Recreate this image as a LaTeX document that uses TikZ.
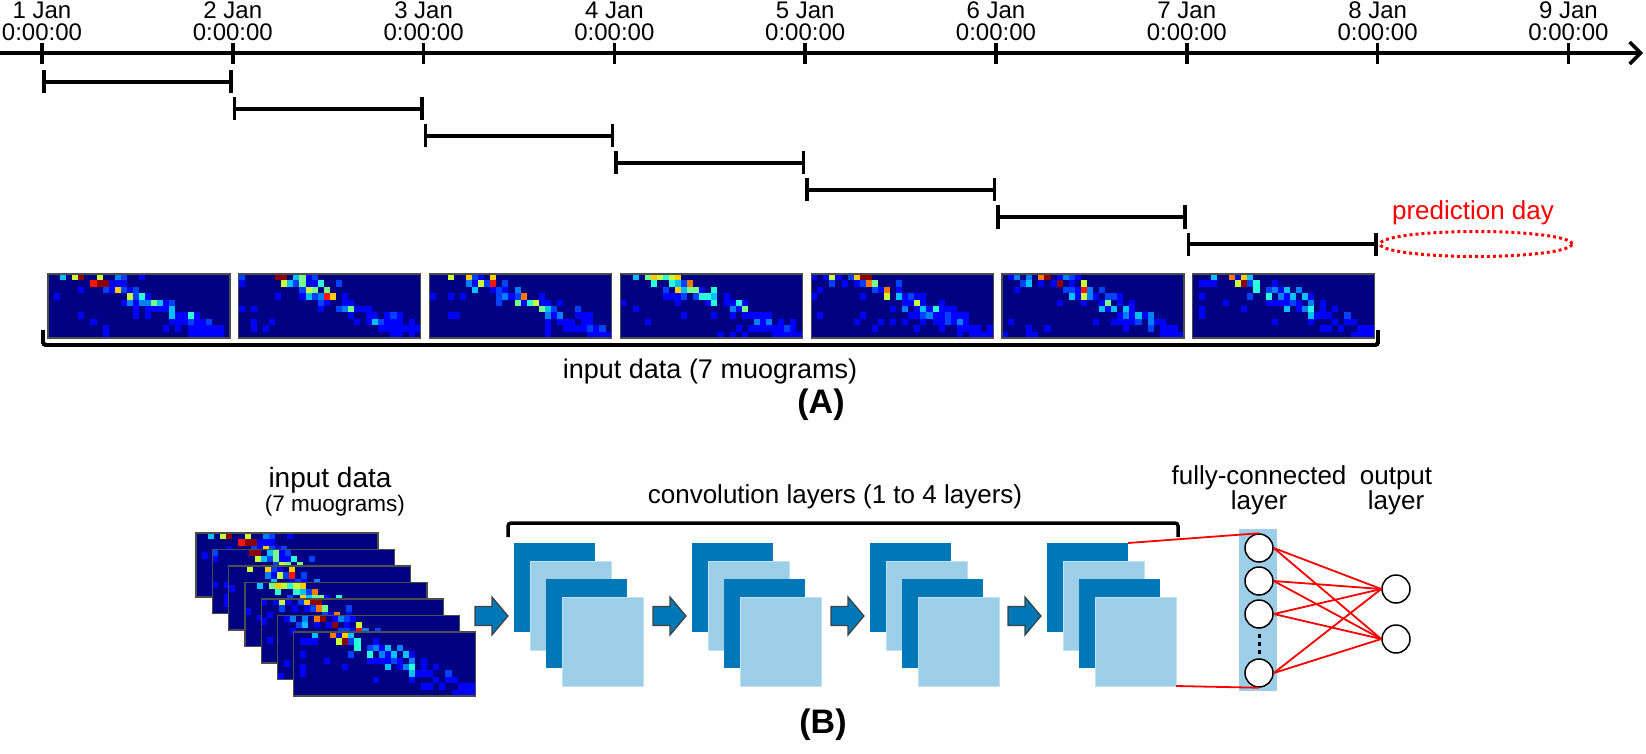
\documentclass[tikz,border=0pt]{standalone}
\usepackage{fontspec}
\setmainfont{Liberation Sans}
\usetikzlibrary{arrows.meta}

\definecolor{convdark}{RGB}{0,119,182}
\definecolor{convlight}{RGB}{156,206,232}
\definecolor{convedge}{RGB}{190,225,243}
\definecolor{jetbg}{RGB}{0,0,130}
\definecolor{jet0}{RGB}{0,0,215}
\definecolor{jet1}{RGB}{0,0,255}
\definecolor{jet2}{RGB}{0,64,255}
\definecolor{jet3}{RGB}{0,128,255}
\definecolor{jet4}{RGB}{0,192,255}
\definecolor{jet5}{RGB}{40,255,215}
\definecolor{jet6}{RGB}{120,255,135}
\definecolor{jet7}{RGB}{200,255,55}
\definecolor{jet8}{RGB}{255,205,0}
\definecolor{jet9}{RGB}{255,120,0}
\definecolor{jet10}{RGB}{255,20,0}
\definecolor{jet11}{RGB}{140,0,0}

% one muogram: x, y (top left), seed
\newcommand\muogram[3]{%
	\fill[jetbg] (#1,#2) rectangle ++(182,64);
	\pgfmathsetseed{#3}
	\foreach \col in {0,...,29}{
		\foreach \row in {0,...,9}{
			\pgfmathsetmacro\dd{\row-(\col-7)*0.42}
			\pgfmathtruncatemacro\hit{rnd<(0.07*(\dd>0)+0.85*exp(-min(\dd*\dd/3,9)))}
			\ifnum\hit=1
				\pgfmathtruncatemacro\lv{min(11,1+(rnd+0.001)^(1+0.4*\row)*(14-1.5*\row)*exp(-min(\dd*\dd/4,9)))}
				\fill[jet\lv] (#1+\col*6.067,#2+\row*6.4) rectangle ++(6.07,6.4);
			\fi
		}
	}
	\draw[mframe] (#1,#2) rectangle ++(182,64);
}

\begin{document}
\begin{tikzpicture}[x=1pt,y=-1pt,
		axisline/.style={line width=3.5pt},
		span/.style={line width=3.5pt,{Bar[width=23pt]}-{Bar[width=23pt]}},
		daylab/.style={align=center,inner sep=0pt,anchor=south,font=\fontsize{24}{22}\selectfont},
		biglab/.style={inner sep=0pt,anchor=base,font=\fontsize{26}{25}\selectfont},
		smalllab/.style={inner sep=0pt,anchor=base,font=\fontsize{22.5}{22}\selectfont},
		panellab/.style={inner sep=0pt,font=\fontsize{34}{34}\selectfont\bfseries},
		mframe/.style={draw=black!70,line width=1.2pt},
		bracket/.style={line width=3.5pt,rounded corners=3pt},
		convdark/.style={fill=convdark,inner sep=0pt,outer sep=0pt,minimum width=81pt,minimum height=89pt,anchor=north west},
		convlight/.style={fill=convlight,draw=convedge,line width=1pt,inner sep=0pt,outer sep=0pt,minimum width=81pt,minimum height=89pt,anchor=north west},
		flowarrow/.style={fill=convdark,draw=black!75,line width=1.2pt},
		neuron/.style={circle,draw,fill=white,line width=1.5pt,minimum size=28pt,inner sep=0pt},
		fcline/.style={red,line width=1.8pt}]
	\useasboundingbox (0,0) rectangle (1646,754);

	% (A) time axis
	\draw[axisline,-{Straight Barb[length=11pt,width=22pt]}] (0,53) -- (1643,53);
	\foreach \i in {1,...,9}
	{
		\draw[axisline] (42+190.8*\i-190.8,43) -- ++(0,21);
		\node[daylab] (day\i) at (42+190.8*\i-190.8,41) {\i\ Jan\\0:00:00};
	}
	\foreach \i in {1,...,7}
	\draw[span] (42+190.8*\i-190.8,55+27*\i) -- ++(190.8,0);

	\node[biglab,red] (pred) at (1473,219) {prediction day};
	\draw[red,line width=3pt,dash pattern=on 3pt off 3pt] (1476,244) ellipse [x radius=96pt,y radius=12.5pt];

	\foreach \i in {1,...,7}
	\muogram{48+190.8*\i-190.8}{274}{100+\i}
	\draw[bracket] (43,330) |- (1378,345) -- (1378,330);
	\node[biglab,font=\fontsize{27}{26}\selectfont] (inA) at (710,378) {input data (7 muograms)};
	\node[panellab] (labA) at (821,405) {(A)};

	% (B) network
	\node[biglab,font=\fontsize{28}{27}\selectfont] (inB) at (330,487) {input data};
	\node[smalllab] (inB2) at (335,511) {(7 muograms)};
	\foreach \k in {0,...,6}
	{
		\pgfmathtruncatemacro\sd{101+\k}
		\muogram{196+16.3*\k}{533+16.5*\k}{\sd}
	}

	\node[biglab] (convlab) at (835,503) {convolution layers (1 to 4 layers)};
	\draw[bracket] (508,537) |- (1178,523) -- (1178,537);
	\foreach \x [count=\i] in {514,692,870,1047}
	{
		\draw[flowarrow] (\x-39,606.5) -- ++(17,0) -- ++(0,-9.5) -- ++(16,19) -- ++(-16,19) -- ++(0,-9.5) -- ++(-17,0) -- cycle;
		\node[convdark] (conv\i-1) at (\x,543) {};
		\node[convlight] (conv\i-2) at (\x+16,561) {};
		\node[convdark] (conv\i-3) at (\x+32,579) {};
		\node[convlight] (conv\i-4) at (\x+48,597) {};
	}

	\node[biglab,align=center,anchor=south] (fclab) at (1259,515) {fully-connected\\layer};
	\node[biglab,align=center,anchor=south] (outlab) at (1396,515) {output\\layer};
	\node[fill=convlight,minimum width=38pt,minimum height=162pt,inner sep=0pt] (fcbar) at (1258,610) {};
	\foreach \i/\y in {1/548,2/581,3/614,5/673}
	\node[neuron] (fc\i) at (1259,\y) {};
	\foreach \y in {634,642,650}
	\fill (1257.5,\y) rectangle ++(3.5,3.5);
	\node[neuron] (out1) at (1396,589) {};
	\node[neuron] (out2) at (1396,639) {};

	\draw[fcline] (conv4-1.north east) -- (fc1.north);
	\draw[fcline] (conv4-4.south east) -- (fc5.south);
	\foreach \i in {1,2,3,5}
	\foreach \j in {1,2}
	\draw[fcline] (fc\i.east) -- (out\j.west);

	\node[panellab] (labB) at (823,725) {(B)};
\end{tikzpicture}
\end{document}
